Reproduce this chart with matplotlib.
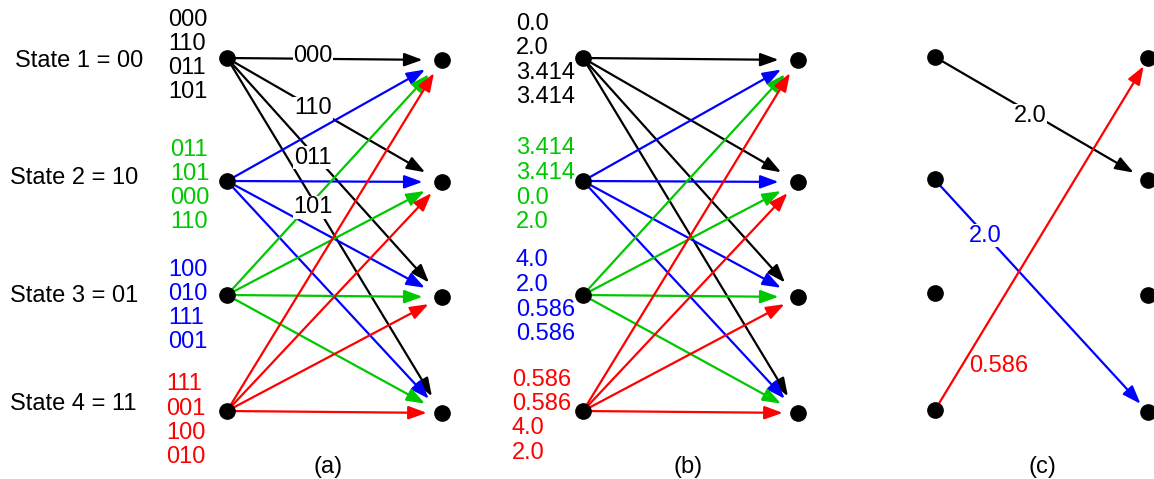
import matplotlib
matplotlib.use("Agg")
import matplotlib.pyplot as plt
from matplotlib.patches import FancyArrowPatch

# Datos del trellis
state_names = ["State 1 = 00", "State 2 = 10", "State 3 = 01", "State 4 = 11"]
codewords_a = [["000", "110", "011", "101"],
               ["011", "101", "000", "110"],
               ["100", "010", "111", "001"],
               ["111", "001", "100", "010"]]
distances_b = [["0.0", "2.0", "3.414", "3.414"],
               ["3.414", "3.414", "0.0", "2.0"],
               ["4.0", "2.0", "0.586", "0.586"],
               ["0.586", "0.586", "4.0", "2.0"]]
edge_labels_a = ["000", "110", "011", "101"]   # sobre las ramas del estado 1
# caminos supervivientes (origen, destino, distancia)
survivors_c = [(0, 1, "2.0"), (1, 3, "2.0"), (3, 0, "0.586")]
panel_names = ["(a)", "(b)", "(c)"]

# Colores
BLACK, BLUE, GREEN, RED = "#000000", "#0000ff", "#00c800", "#ff0000"
edge_colors = [BLACK, BLUE, GREEN, RED]      # por estado de origen
label_colors = [BLACK, GREEN, BLUE, RED]     # columnas de etiquetas
survivor_colors = [BLACK, BLUE, RED]

# Disposicion (pixeles)
rows_left = [58, 181, 295, 411]
rows_right = [60, 182, 297, 413]
cols = [(227, 442), (583, 798), (935, 1148)]
edge_shrink = [14, 14, 14, 11]   # hueco antes del nodo destino (pt)
FS = 17
FONT = "Liberation Sans"

fig = plt.figure(figsize=(11.54, 4.79), dpi=100)
ax = fig.add_axes([0, 0, 1, 1])
ax.set_xlim(0, 1154)
ax.set_ylim(479, 0)
ax.axis("off")


def arrow(p0, p1, color, shrink_a=0, shrink_b=14):
    a = FancyArrowPatch(p0, p1, arrowstyle="-|>,head_length=0.55,head_width=0.2",
                        mutation_scale=20, color=color, lw=1.6,
                        shrinkA=shrink_a, shrinkB=shrink_b, zorder=2)
    ax.add_patch(a)


def text(x, y, s, color=BLACK, ha="left", bg=False):
    kw = dict(fontsize=FS, family=FONT, color=color, ha=ha, va="center_baseline", zorder=5)
    if bg:
        kw["bbox"] = dict(facecolor="white", edgecolor="none", pad=0.5)
    ax.text(x, y, s, **kw)


def nodes(xl, xr):
    ax.plot([xl] * 4, rows_left, "o", color=BLACK, ms=11, zorder=4)
    ax.plot([xr] * 4, rows_right, "o", color=BLACK, ms=11, zorder=4)


# Panel (a) y (b): trellis completo
for k, (xl, xr) in enumerate(cols[:2]):
    for i in range(4):
        for j in range(4):
            arrow((xl, rows_left[i]), (xr, rows_right[j]), edge_colors[i],
                  shrink_b=edge_shrink[i])
    nodes(xl, xr)

# Nombres de estados
state_right = [143, 138, 138, 137]
state_y = [58, 175, 293, 402]
for i, name in enumerate(state_names):
    text(state_right[i], state_y[i], name, ha="right")

# Columnas de palabras codigo (a)
tops_a = [17, 147, 267, 382]
lefts_a = [168, 170, 168, 166]
for i in range(4):
    for r, w in enumerate(codewords_a[i]):
        text(lefts_a[i], tops_a[i] + r * 24.2, w, color=label_colors[i])

# Etiquetas de las ramas del estado 1 en (a)
xl, xr = cols[0]
for j, lab in enumerate(edge_labels_a):
    x = 313
    y = rows_left[0] + (rows_right[j] - 12 - rows_left[0]) * (x - xl) / (xr - 14 - xl)
    text(x, y, lab, ha="center", bg=True)

# Columnas de distancias (b)
tops_b = [21, 146, 258, 377]
lefts_b = [516, 516, 516, 512]
for i in range(4):
    for r, d in enumerate(distances_b[i]):
        text(lefts_b[i], tops_b[i] + r * 24.5, d, color=label_colors[i])

# Panel (c): caminos supervivientes
xl, xr = cols[2]
surv_label_pos = [(1030, 113, True), (985, 233, True), (999, 363, False)]
surv_shrink = [(3, 12), (3, 8), (6, 6)]
for k, (i, j, d) in enumerate(survivors_c):
    sa, sb = surv_shrink[k]
    arrow((xl, rows_left[i] - 1), (xr, rows_right[j] - 1), survivor_colors[k],
          shrink_a=sa, shrink_b=sb)
    lx, ly, bg = surv_label_pos[k]
    text(lx, ly, d, color=survivor_colors[k], ha="center", bg=bg)
ax.plot([xl] * 4, [57, 179, 293, 410], "o", color=BLACK, ms=11, zorder=4)
ax.plot([xr] * 4, [58, 180, 295, 412], "o", color=BLACK, ms=11, zorder=4)

# Nombres de los paneles
for name, x in zip(panel_names, [328, 688, 1042]):
    text(x, 464, name, ha="center")

fig.savefig("out.png", dpi=100)
